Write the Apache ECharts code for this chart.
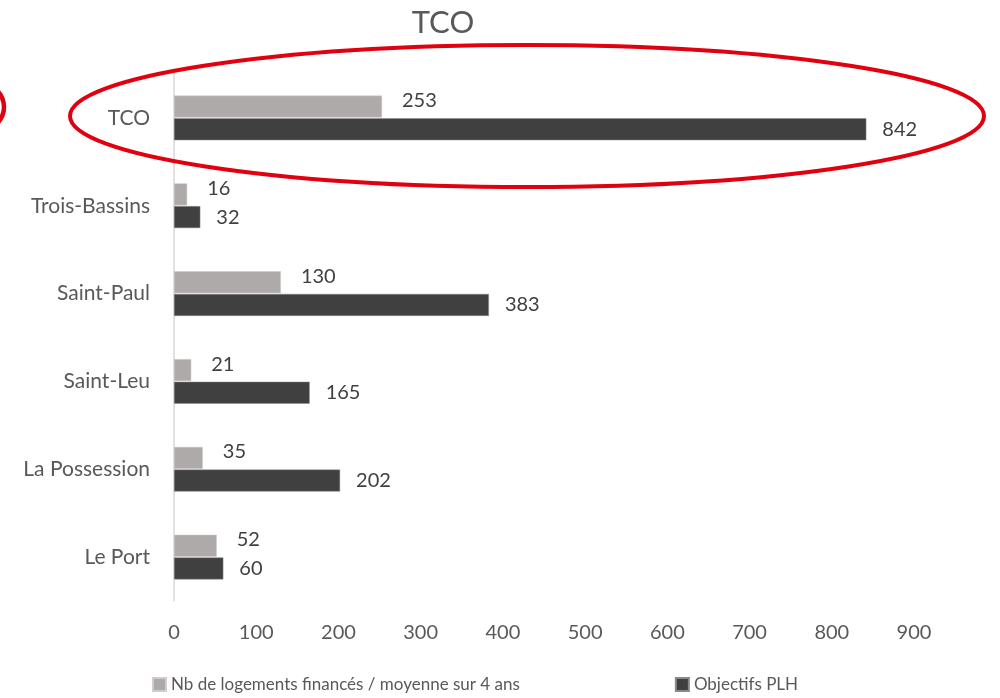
<!DOCTYPE html>
<html>
<head>
<meta charset="utf-8">
<script src="https://cdn.jsdelivr.net/npm/echarts@6/dist/echarts.min.js"></script>
<style>
  html, body { margin: 0; padding: 0; background: #fff; }
  #chart { width: 1000px; height: 698px; }
</style>
</head>
<body>
<div id="chart"></div>
<script>
// communes, du bas vers le haut
var communes = ['Le Port', 'La Possession', 'Saint-Leu', 'Saint-Paul', 'Trois-Bassins', 'TCO'];
var logementsFinances = [52, 35, 21, 130, 16, 253];
var objectifsPLH = [60, 202, 165, 383, 32, 842];
var xTicks = [0, 900, 100];
var serieNames = ['Nb de logements financés / moyenne sur 4 ans', 'Objectifs PLH'];

var police = 'Lato, "Noto Sans", sans-serif';
var gris = '#595959';

var myChart = echarts.init(document.getElementById('chart'));

var option = {
    title: {
        text: 'TCO',
        left: 438,
        top: 2,
        textAlign: 'center',
        textStyle: { fontFamily: police, fontSize: 31, fontWeight: 'normal', color: gris }
    },
    legend: {
        bottom: 0,
        left: 147,
        itemGap: 155,
        itemWidth: 13,
        itemHeight: 13,
        icon: 'rect',
        textStyle: { fontFamily: police, fontSize: 17, color: gris },
        data: serieNames
    },
    grid: { left: 174, right: 86, top: 74, bottom: 97 },
    xAxis: {
        type: 'value',
        min: xTicks[0],
        max: xTicks[1],
        interval: xTicks[2],
        axisLine: { show: false },
        axisTick: { show: false },
        splitLine: { show: false },
        axisLabel: { fontFamily: police, fontSize: 20, color: gris, margin: 22 }
    },
    yAxis: {
        type: 'category',
        data: communes,
        axisLine: { show: true, lineStyle: { color: '#d9d9d9', width: 1.5 } },
        axisTick: { show: false },
        axisLabel: { fontFamily: police, fontSize: 21, color: gris, margin: 24 }
    },
    series: [
        {
            name: serieNames[0],
            type: 'bar',
            data: logementsFinances,
            barWidth: 22,
            barGap: '3%',
            itemStyle: { color: '#aeaaaa', borderColor: '#cfcccc', borderWidth: 0.5 },
            label: { show: true, position: 'right', distance: 20, offset: [0, -6],
                fontFamily: police, fontSize: 20, color: '#404040' }
        },
        {
            name: serieNames[1],
            type: 'bar',
            data: objectifsPLH,
            barWidth: 22,
            itemStyle: { color: '#404040', borderColor: '#8a8a8a', borderWidth: 0.5 },
            label: { show: true, position: 'right', distance: 16,
                fontFamily: police, fontSize: 20, color: '#404040' }
        }
    ],
    graphic: [
        {
            type: 'ellipse',
            shape: { cx: 527, cy: 116, rx: 457, ry: 71 },
            style: { fill: 'none', stroke: '#e0000f', lineWidth: 4 },
            z: 100
        },
        {
            type: 'ellipse',
            shape: { cx: -38, cy: 107, rx: 42, ry: 30 },
            style: { fill: 'none', stroke: '#e0000f', lineWidth: 4.5 },
            z: 100
        }
    ]
};

myChart.setOption(option);
</script>
</body>
</html>
